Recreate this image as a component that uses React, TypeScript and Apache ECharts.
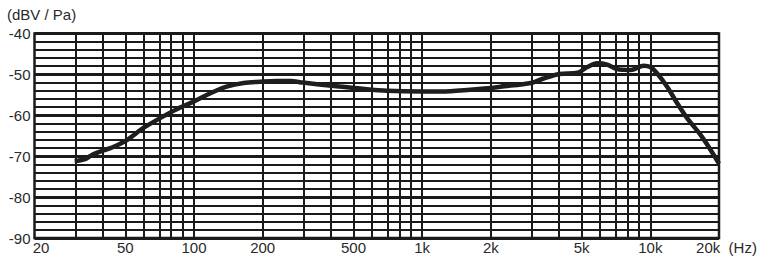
import React, { useEffect, useRef } from "react";
import * as echarts from "echarts";

const freqs = [30, 33, 36, 40, 44, 51, 60, 71, 84, 100, 118, 139, 165, 195, 230, 265, 300, 400, 520, 700, 1000, 1330, 2000, 2200, 3000, 3400, 4000, 4800, 5300, 5850, 6470, 7150, 8200, 9350, 10000, 10700, 11850, 13100, 14500, 16600, 18350, 20000];
const levels = [-71.2, -70.8, -69.6, -68.6, -67.8, -66.0, -63.1, -60.7, -58.5, -56.6, -54.6, -53.0, -52.1, -51.8, -51.6, -51.6, -52.0, -52.8, -53.4, -54.0, -54.2, -54.1, -53.3, -53.0, -52.1, -51.0, -49.9, -49.6, -48.2, -47.3, -47.6, -48.7, -48.9, -47.9, -48.2, -49.7, -53.0, -57.0, -60.7, -64.8, -68.4, -71.8];

const gridFreqs = [30, 40, 50, 60, 70, 80, 90, 100, 200, 300, 400, 500, 600, 700, 800, 900, 1000, 2000, 3000, 4000, 5000, 6000, 7000, 8000, 9000, 10000];
const tickFreqs = [20, 50, 100, 200, 500, 1000, 2000, 5000, 10000, 20000];
const tickLabels = ["20", "50", "100", "200", "500", "1k", "2k", "5k", "10k", "20k"];

const FONT = "Liberation Sans, Arial, sans-serif";

export default function App() {
  const ref = useRef<HTMLDivElement>(null);
  useEffect(() => {
    if (!ref.current) return;
    const chart = echarts.init(ref.current, undefined, { renderer: "svg" });
    const lg = (f: number) => Math.log10(f);
    const tickVals = tickFreqs.map(lg);
    chart.setOption({
      animation: false,
      backgroundColor: "#ffffff",
      grid: {
        left: 34.5,
        top: 33.5,
        right: 42,
        bottom: 26,
        show: true,
        borderColor: "#1a1a1a",
        borderWidth: 2.5,
        backgroundColor: "transparent",
      },
      graphic: [
        {
          type: "text",
          left: 7,
          top: 7,
          style: { text: "(dBV / Pa)", fontSize: 15, fontFamily: FONT, fill: "#2a2a2a" },
        },
      ],
      xAxis: {
        type: "value",
        min: lg(20),
        max: lg(20000),
        axisLine: { show: false },
        axisTick: { show: false },
        splitLine: { show: false },
        axisLabel: {
          customValues: tickVals,
          margin: 2,
          color: "#2a2a2a",
          fontSize: 15,
          fontFamily: FONT,
          showMinLabel: true,
          showMaxLabel: true,
          formatter: (v: number) => {
            let best = 0;
            let d = Infinity;
            tickVals.forEach((t, i) => {
              const dd = Math.abs(t - v);
              if (dd < d) {
                d = dd;
                best = i;
              }
            });
            const s = tickLabels[best];
            if (best === 0) return "{p|}{t|" + s + "}";
            if (best === tickLabels.length - 1) return "{q|}{t|" + s + "}{t|  (Hz)}";
            return "{t|" + s + "}";
          },
          rich: {
            t: { fontSize: 15, fontFamily: FONT, color: "#2a2a2a" },
            p: { width: 13 },
            q: { width: 15 },
          },
        },
      },
      yAxis: [
        {
          type: "value",
          min: -90,
          max: -40,
          interval: 2,
          axisLine: { show: false },
          axisTick: { show: false },
          axisLabel: { show: false },
          splitLine: { show: true, lineStyle: { color: "#1a1a1a", width: 1.8 } },
        },
        {
          type: "value",
          position: "left",
          min: -90,
          max: -40,
          interval: 10,
          axisLine: { show: false },
          axisTick: { show: false },
          axisLabel: { color: "#2a2a2a", fontSize: 15, fontFamily: FONT, margin: 4 },
          splitLine: { show: true, lineStyle: { color: "#1a1a1a", width: 3 } },
        },
      ],
      series: [
        {
          type: "line",
          data: freqs.map((f, i) => [lg(f), levels[i]]),
          smooth: 0.3,
          symbol: "none",
          lineStyle: { color: "#1e1e1e", width: 4.5 },
          z: 5,
          markLine: {
            silent: true,
            symbol: "none",
            label: { show: false },
            lineStyle: { color: "#1a1a1a", width: 2, type: "solid" },
            data: gridFreqs.map((f) => ({ xAxis: lg(f) })),
            z: 2,
          },
        },
      ],
    });
    return () => chart.dispose();
  }, []);
  return <div ref={ref} style={{ width: 761, height: 264, position: "absolute", left: 0, top: 0 }} />;
}
